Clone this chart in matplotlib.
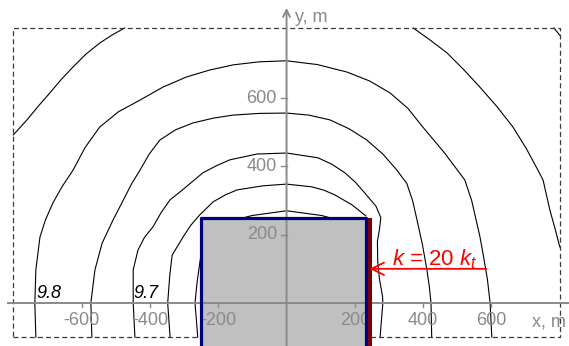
import matplotlib.pyplot as plt
from matplotlib.patches import Rectangle

plt.rcParams['font.family'] = ['Liberation Sans', 'DejaVu Sans']
plt.rcParams['mathtext.fontset'] = 'custom'
plt.rcParams['mathtext.rm'] = 'Liberation Sans'
plt.rcParams['mathtext.it'] = 'Liberation Sans:italic'

# head isolines (x, y in m), traced
iso_985_left = [(-474, 805), (-510, 785), (-547, 761), (-588, 728), (-625, 691), (-660, 654),
                (-693, 615), (-727, 576), (-760, 536), (-800, 492)]
iso_985_right = [(371, 805), (420, 770), (470, 732), (518, 684), (566, 632), (616, 575),
                 (663, 515), (702, 452), (736, 389), (751, 360), (771, 272), (786, 218),
                 (800, 164)]
iso_990 = [(783, 805), (800, 784)]
iso_980 = [(-734, -100), (-737, 0), (-734, 97), (-722, 193), (-706, 243), (-684, 293),
           (-657, 341), (-625, 389), (-590, 455), (-547, 515), (-492, 560), (-429, 594),
           (-362, 632), (-292, 662), (-225, 682), (-157, 697), (-80, 706), (0, 709),
           (90, 698), (177, 676), (243, 650), (303, 615), (355, 570), (399, 515),
           (462, 440), (522, 360), (542, 300), (555, 243), (566, 195), (575, 146),
           (588, 70), (596, 0), (601, -100)]
iso_975 = [(-570, -100), (-573, 0), (-561, 97), (-540, 175), (-508, 243), (-475, 307),
           (-453, 350), (-429, 389), (-402, 436), (-371, 477), (-325, 507), (-274, 527),
           (-215, 541), (-157, 550), (-80, 555), (0, 556), (65, 550), (127, 536),
           (183, 510), (235, 477), (282, 436), (323, 389), (352, 350), (369, 300),
           (382, 243), (398, 170), (411, 97), (418, 48), (423, 0), (425, -100)]
iso_970 = [(-444, -100), (-449, 0), (-449, 97), (-435, 155), (-416, 192), (-391, 223),
           (-367, 265), (-341, 302), (-312, 325), (-245, 381), (-205, 402), (-166, 419),
           (-87, 436), (0, 439), (92, 425), (133, 406), (171, 381), (202, 353),
           (229, 322), (262, 283), (276, 250), (272, 215), (266, 180), (267, 120),
           (272, 70), (281, 20), (282, 0), (277, -60), (274, -100)]
iso_965 = [(-341, -100), (-348, 0), (-342, 80), (-335, 140), (-303, 193), (-280, 228),
           (-254, 258), (-215, 296), (-180, 316), (-145, 331), (-69, 343), (0, 348),
           (74, 340), (110, 330), (142, 316), (192, 287), (232, 255)]
iso_960 = [(-260, -100), (-268, 0), (-262, 60), (-254, 117), (-245, 180), (-200, 230),
           (-101, 256), (0, 270), (103, 256), (180, 235)]
isolines = [iso_990, iso_985_left, iso_985_right, iso_980, iso_975, iso_970, iso_965, iso_960]

iso_labels = ['9.8', '9.7']
iso_label_pos = [(-731, 15), (-449, 15)]

xticks = [-600, -400, -200, 200, 400, 600]
yticks = [200, 400, 600]

# model frame and low-permeability block with high-k strip
frame = (-800, 800, -100, 805)
block_x = (-250, 233)
block_top = 250
strip_x = (235, 250)
k_ratio = 20

fig = plt.figure(figsize=(5.69, 3.46), dpi=100)
ax = fig.add_axes([0, 0, 1, 1])
ax.set_xlim(-839, 827)
ax.set_ylim(-126, 887)
ax.axis('off')

for line in isolines:
    xs, ys = zip(*line)
    ax.plot(xs, ys, color='black', lw=0.8, zorder=1, solid_joinstyle='round')

x0, x1, y0, y1 = frame
ax.plot([x0, x1, x1, x0, x0], [y0, y0, y1, y1, y0], color='#3a3a3a',
        lw=0.9, ls=(0, (4, 2.5)), zorder=1)

for txt, (lx, ly) in zip(iso_labels, iso_label_pos):
    ax.text(lx, ly, txt, fontsize=13, style='italic', color='black',
            ha='left', va='baseline', zorder=7)

bottom = -300
ax.add_patch(Rectangle((block_x[0], bottom), block_x[1] - block_x[0], block_top - bottom,
                       fc='#c0c0c0', ec='none', zorder=2))
ax.add_patch(Rectangle((strip_x[0], bottom), strip_x[1] - strip_x[0], block_top - bottom,
                       fc='#800000', ec='none', zorder=4))

# axes
gray = '#8a8a8a'
ax.plot([-816, 840], [0, 0], color=gray, lw=1.4, zorder=3)
ax.annotate('', xy=(0, 864), xytext=(0, -130),
            arrowprops=dict(arrowstyle='->,head_length=0.5,head_width=0.25',
                            color=gray, lw=1.4, shrinkA=0, shrinkB=0), zorder=3)
for t in xticks:
    ax.plot([t, t], [0, -12], color=gray, lw=1, zorder=3)
    ax.text(t, -26, str(t), color=gray, fontsize=13, ha='center', va='top', zorder=3)
for t in yticks:
    ax.plot([-15, 0], [t, t], color=gray, lw=1, zorder=3)
    ax.text(-28, t, str(t), color=gray, fontsize=13, ha='right', va='center', zorder=3)
ax.text(718, -70, 'x, m', color=gray, fontsize=13, ha='left', va='baseline', zorder=3)
ax.text(25, 822, 'y, m', color=gray, fontsize=13, ha='left', va='baseline', zorder=3)

# block outline
ax.plot([block_x[0], block_x[0], block_x[1], block_x[1]],
        [bottom, block_top, block_top, bottom], color='#000080', lw=2.3, zorder=5)

ax.annotate('', xy=(243, 100), xytext=(585, 100),
            arrowprops=dict(arrowstyle='->,head_length=0.9,head_width=0.45',
                            color='red', lw=1.3, shrinkA=0, shrinkB=0), zorder=6)
ax.text(309, 111, r'$k$ = %d $k_t$' % k_ratio, color='red', fontsize=16,
        ha='left', va='baseline', zorder=6)

fig.savefig('out.png', dpi=100)
